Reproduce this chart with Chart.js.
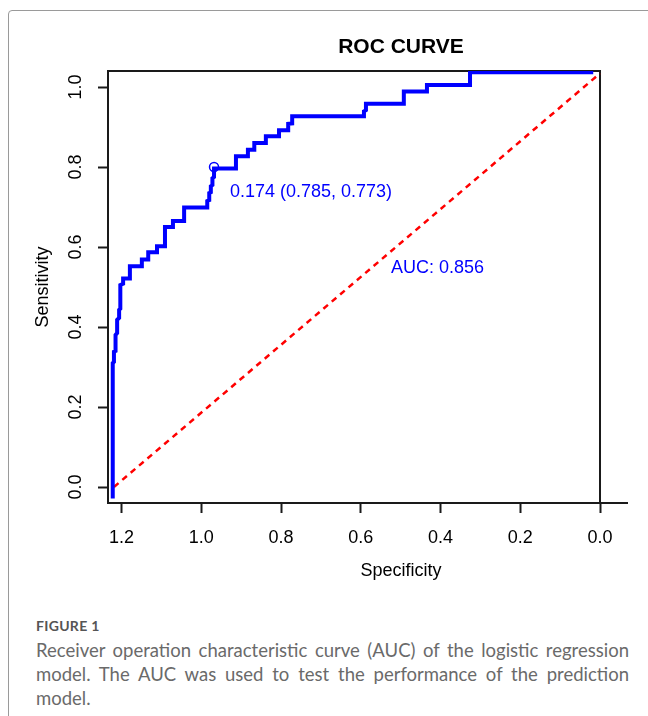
<!DOCTYPE html>
<html>
<head>
<meta charset="utf-8">
<script src="https://cdn.jsdelivr.net/npm/chart.js@4.4.0/dist/chart.umd.min.js"></script>
<style>
  html, body { margin: 0; padding: 0; background: #fff; overflow: hidden; }
  body { width: 648px; height: 716px; position: relative; }
  #frame { position: absolute; left: 8px; top: 10px; width: 700px; height: 760px; border: 1px solid #9a9a9a; border-radius: 4px; }
  #chartBox { position: absolute; left: 0; top: 0; width: 648px; height: 600px; }
  #caption { position: absolute; left: 36px; top: 614px; width: 593px; font-family: Lato, "Open Sans", sans-serif; color: #6a6a6a; }
  .fig { font-size: 14px; font-weight: bold; color: #555; line-height: 24px; letter-spacing: 0.3px; }
  .line { font-size: 18.5px; line-height: 24px; white-space: nowrap; }
  .just { text-align: justify; text-align-last: justify; }
</style>
</head>
<body>
<div id="frame"></div>
<div id="chartBox"><canvas id="rocChart"></canvas></div>
<div id="caption">
  <div class="fig">FIGURE 1</div>
  <div class="line just">Receiver operation characteristic curve (AUC) of the logistic regression</div>
  <div class="line just">model. The AUC was used to test the performance of the prediction</div>
  <div class="line">model.</div>
</div>

<script>
// ROC curve (x = specificity axis, y = sensitivity)
const rocSpec = [1.222, 1.222, 1.219, 1.219, 1.215, 1.215, 1.211, 1.211, 1.206, 1.206,
  1.203, 1.203, 1.196, 1.196, 1.179, 1.179, 1.149, 1.149, 1.133, 1.133,
  1.111, 1.111, 1.091, 1.091, 1.071, 1.071, 1.043, 1.043, 0.985, 0.985,
  0.980, 0.980, 0.976, 0.976, 0.972, 0.972, 0.968, 0.968, 0.913, 0.913,
  0.883, 0.883, 0.867, 0.867, 0.838, 0.838, 0.805, 0.805, 0.782, 0.782,
  0.772, 0.772, 0.592, 0.592, 0.587, 0.587, 0.492, 0.492, 0.434, 0.434,
  0.326, 0.326, 0.017];
const rocSens = [-0.029, 0.310, 0.313, 0.338, 0.340, 0.380, 0.385, 0.418, 0.423, 0.443,
  0.446, 0.505, 0.508, 0.521, 0.521, 0.552, 0.552, 0.569, 0.569, 0.587,
  0.587, 0.602, 0.602, 0.650, 0.650, 0.665, 0.665, 0.699, 0.699, 0.715,
  0.717, 0.735, 0.737, 0.752, 0.755, 0.772, 0.775, 0.796, 0.796, 0.827,
  0.827, 0.843, 0.843, 0.860, 0.860, 0.877, 0.877, 0.892, 0.892, 0.908,
  0.909, 0.927, 0.927, 0.939, 0.942, 0.958, 0.958, 0.989, 0.989, 1.005,
  1.005, 1.037, 1.037];

// reference (chance) line
const chanceSpec = [1.219, 0.0];
const chanceSens = [0.0, 1.034];

// best cut-off point
const cutoffSpec = [0.968];
const cutoffSens = [0.800];

const xTicks = [1.2, 1.0, 0.8, 0.6, 0.4, 0.2, 0.0];
const yTicks = [0.0, 0.2, 0.4, 0.6, 0.8, 1.0];

const cutoffText = "0.174 (0.785, 0.773)";
const aucText = "AUC: 0.856";

const toPoints = (xs, ys) => xs.map((x, i) => ({ x: x, y: ys[i] }));

const FONT = '"Liberation Sans", Arial, sans-serif';

// box, title, x-axis title and the two blue labels (R base-graphics look)
const rPlotExtras = {
  id: "rPlotExtras",
  beforeDatasetsDraw(chart) {
    const { ctx, chartArea, scales } = chart;
    const xr = scales.x.getPixelForValue(0);
    ctx.save();
    ctx.strokeStyle = "#1a1a1a";
    ctx.lineWidth = 2;
    ctx.beginPath();
    ctx.moveTo(chartArea.left, chartArea.top);
    ctx.lineTo(xr, chartArea.top);
    ctx.lineTo(xr, chartArea.bottom);
    ctx.stroke();
    ctx.restore();
  },
  afterDatasetsDraw(chart) {
    const { ctx, scales } = chart;
    ctx.save();
    ctx.fillStyle = "#0000ff";
    ctx.font = "18px " + FONT;
    ctx.textAlign = "left";
    ctx.textBaseline = "middle";
    ctx.fillText(cutoffText, scales.x.getPixelForValue(0.928), scales.y.getPixelForValue(0.737));
    ctx.fillText(aucText, scales.x.getPixelForValue(0.524), scales.y.getPixelForValue(0.547));
    ctx.restore();
  },
  afterDraw(chart) {
    const { ctx } = chart;
    ctx.save();
    ctx.fillStyle = "#000";
    ctx.textAlign = "center";
    ctx.textBaseline = "middle";
    ctx.font = "bold 21px " + FONT;
    ctx.fillText("ROC CURVE", 401, 47);
    ctx.font = "18px " + FONT;
    ctx.fillText("Specificity", 401, 571);
    ctx.restore();
  }
};

new Chart(document.getElementById("rocChart"), {
  type: "scatter",
  data: {
    datasets: [
      {
        label: "ROC",
        data: toPoints(rocSpec, rocSens),
        showLine: true,
        borderColor: "#0000ff",
        borderWidth: 4,
        pointRadius: 0,
        tension: 0,
        order: 1
      },
      {
        label: "Chance",
        data: toPoints(chanceSpec, chanceSens),
        showLine: true,
        borderColor: "#ff0000",
        borderWidth: 2.5,
        borderDash: [6, 5],
        pointRadius: 0,
        order: 2
      },
      {
        label: "Cut-off",
        data: toPoints(cutoffSpec, cutoffSens),
        pointStyle: "circle",
        pointRadius: 4.5,
        borderColor: "#0000ff",
        borderWidth: 1.5,
        backgroundColor: "rgba(255,255,255,0)",
        order: 0
      }
    ]
  },
  options: {
    responsive: true,
    maintainAspectRatio: false,
    animation: false,
    devicePixelRatio: 1,
    layout: { padding: { left: 0, right: 21, top: 71, bottom: 0 } },
    plugins: {
      legend: { display: false },
      tooltip: { enabled: false },
      title: { display: false }
    },
    scales: {
      x: {
        type: "linear",
        reverse: true,
        min: -0.0677,
        max: 1.2339,
        afterBuildTicks: scale => { scale.ticks = xTicks.map(v => ({ value: v })); },
        afterFit: scale => { scale.height = 97; },
        grid: { drawOnChartArea: false, drawTicks: true, tickLength: 10, tickColor: "#1a1a1a", tickWidth: 2 },
        border: { display: true, color: "#1a1a1a", width: 2 },
        ticks: {
          color: "#000",
          padding: 14,
          font: { family: FONT, size: 18 },
          maxRotation: 0,
          autoSkip: false,
          callback: v => v.toFixed(1)
        }
      },
      y: {
        type: "linear",
        min: -0.04,
        max: 1.04,
        afterBuildTicks: scale => { scale.ticks = yTicks.map(v => ({ value: v })); },
        afterFit: scale => { scale.width = 108; },
        grid: { drawOnChartArea: false, drawTicks: true, tickLength: 10, tickColor: "#1a1a1a", tickWidth: 2 },
        border: { display: true, color: "#1a1a1a", width: 2 },
        title: {
          display: true,
          text: "Sensitivity",
          color: "#000",
          font: { family: FONT, size: 18 },
          padding: { top: 32, bottom: 0 }
        },
        ticks: {
          color: "#000",
          padding: 9,
          crossAlign: "center",
          minRotation: 90,
          maxRotation: 90,
          autoSkip: false,
          font: { family: FONT, size: 18 },
          callback: v => v.toFixed(1)
        }
      }
    }
  },
  plugins: [rPlotExtras]
});
</script>
</body>
</html>
